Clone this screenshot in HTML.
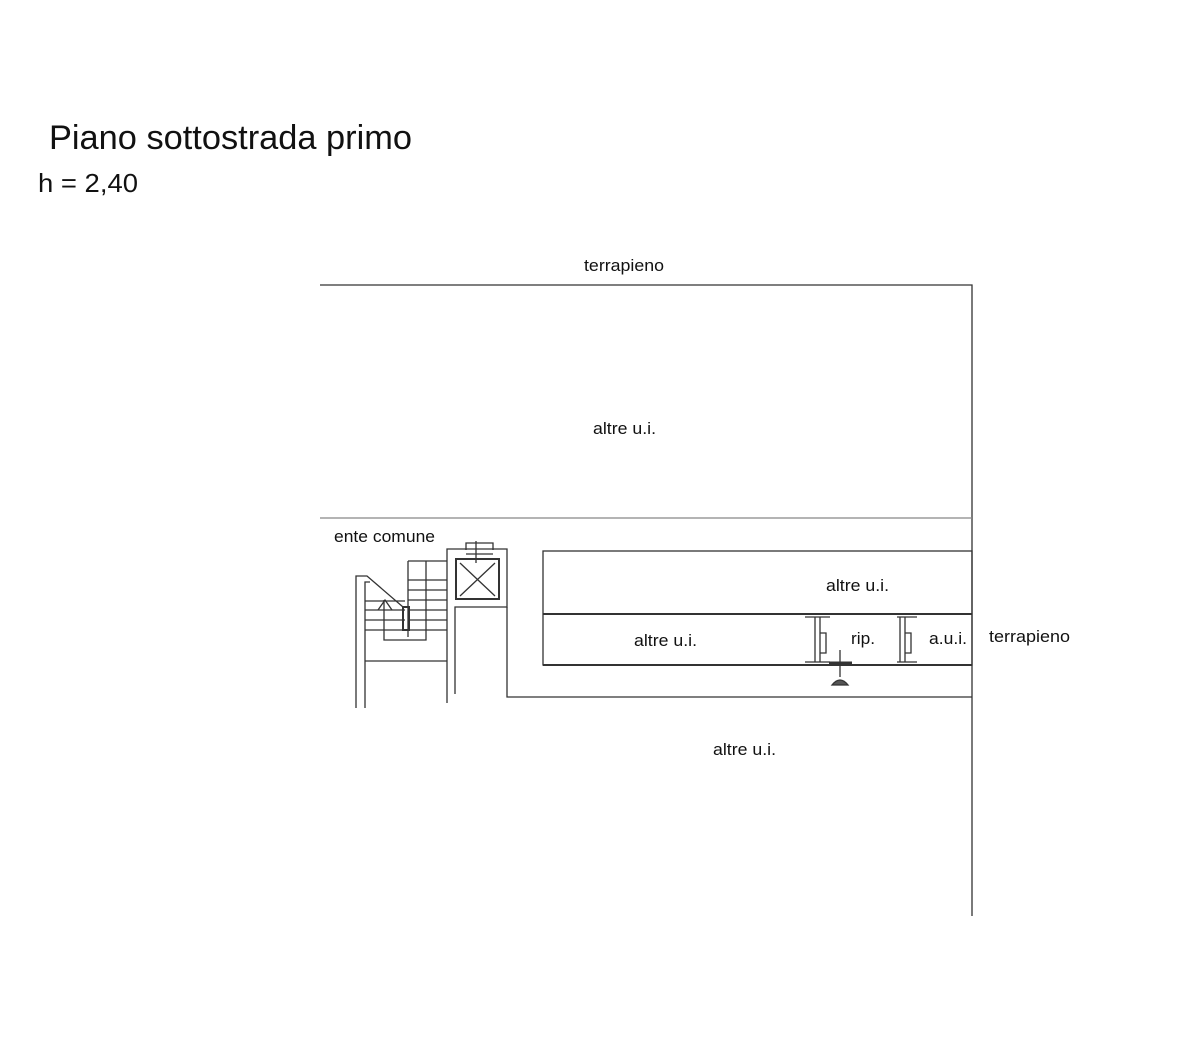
<!DOCTYPE html>
<html><head><style>body{margin:0;background:#fff}svg{display:block}text{font-family:"Liberation Sans",sans-serif;fill:#111}</style></head><body>
<svg width="1200" height="1043" viewBox="0 0 1200 1043" xmlns="http://www.w3.org/2000/svg">
<text x="49" y="149" font-size="34" textLength="363" lengthAdjust="spacingAndGlyphs">Piano sottostrada primo</text>
<text x="38" y="192" font-size="26" textLength="100" lengthAdjust="spacingAndGlyphs">h = 2,40</text>
<g stroke="#333" stroke-width="1.3" fill="none">
<path d="M320 285H972V916"/>
<path d="M320 518H972" stroke="#888"/>
<rect x="543" y="551" width="429" height="114"/>
<path d="M543 614H972" stroke-width="2"/>
<path d="M543 665H972" stroke-width="2"/>
<path d="M507 607V697H972"/>
<path d="M447 703V549H507V607H455V694"/>
<rect x="456" y="559" width="43" height="40" stroke-width="2"/>
<path d="M460 563L495 596M495 563L460 596"/>
<path d="M466 550V543H493V550M476 541V563M466 554H493"/>
<path d="M356 708V576H367L403 607M365 708V582H370"/>
<path d="M365 661H447M408 561H447M408 561V637M426 561V640H384V600M408 580H447M408 590H447M408 600H447M408 610H447M408 620H447M408 630H447M365 610H405M365 620H405M365 630H405M365 601H405"/>
<path d="M403 607V630H409V607Z" stroke-width="2"/>
<path d="M378 610L385 600L392 610"/>
<path d="M815 617V662M820 617V662M805 617H830M805 662H830M820 633H826V653H820M900 617V662M905 617V662M897 617H917M897 662H917M905 633H911V653H905"/>
<path d="M829 663H852" stroke-width="3"/>
<path d="M840 650V677"/>
<path d="M832 685Q840 675 848 685Z" fill="#555"/>
</g>
<g font-size="17">
<text x="584" y="271" textLength="80" lengthAdjust="spacingAndGlyphs">terrapieno</text>
<text x="593" y="434" textLength="63" lengthAdjust="spacingAndGlyphs">altre u.i.</text>
<text x="334" y="542" textLength="101" lengthAdjust="spacingAndGlyphs">ente comune</text>
<text x="826" y="591" textLength="63" lengthAdjust="spacingAndGlyphs">altre u.i.</text>
<text x="634" y="646" textLength="63" lengthAdjust="spacingAndGlyphs">altre u.i.</text>
<text x="851" y="644" textLength="24" lengthAdjust="spacingAndGlyphs">rip.</text>
<text x="929" y="644" textLength="38" lengthAdjust="spacingAndGlyphs">a.u.i.</text>
<text x="989" y="642" textLength="81" lengthAdjust="spacingAndGlyphs">terrapieno</text>
<text x="713" y="755" textLength="63" lengthAdjust="spacingAndGlyphs">altre u.i.</text>
</g>
</svg>
</body></html>
